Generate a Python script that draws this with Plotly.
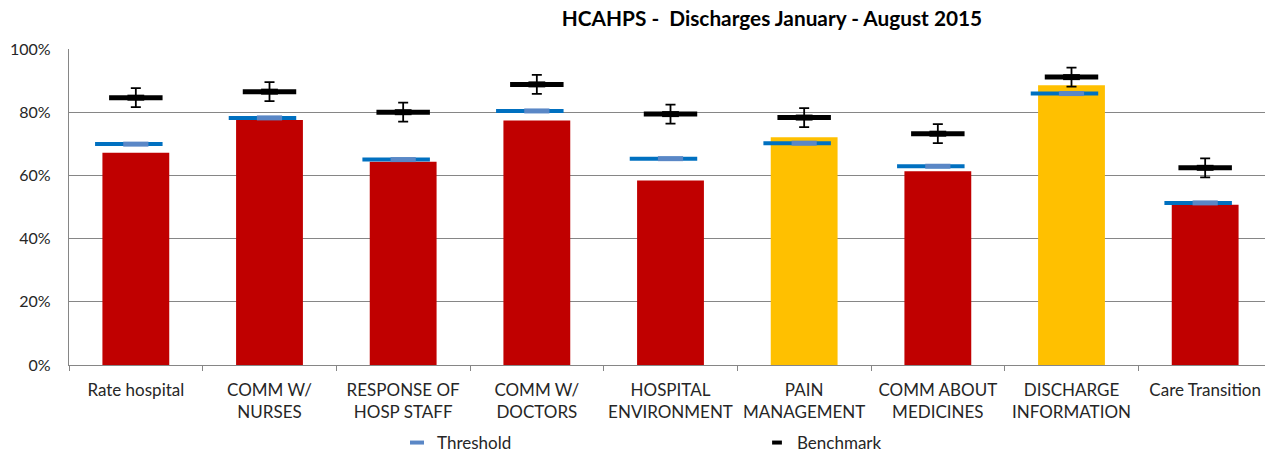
import plotly.graph_objects as go

categories = ["Rate hospital", "COMM W/<br>NURSES", "RESPONSE OF<br>HOSP STAFF", "COMM W/<br>DOCTORS",
              "HOSPITAL<br>ENVIRONMENT", "PAIN<br>MANAGEMENT", "COMM ABOUT<br>MEDICINES",
              "DISCHARGE<br>INFORMATION", "Care Transition"]
actual = [67.2, 77.5, 64.3, 77.4, 58.4, 72.1, 61.3, 88.5, 50.7]
threshold = [69.9, 78.2, 65.0, 80.4, 65.3, 70.2, 62.9, 85.9, 51.3]
benchmark = [84.6, 86.5, 80.0, 88.8, 79.4, 78.3, 73.2, 91.1, 62.4]
benchmark_err = [3.0, 3.0, 3.0, 3.0, 3.0, 3.0, 3.0, 3.0, 3.0]
y_ticks = [0, 20, 40, 60, 80, 100]
y_tick_labels = ["0%", "20%", "40%", "60%", "80%", "100%"]

RED = "#C00000"
GOLD = "#FFC000"
bar_colors = [GOLD if a >= t else RED for a, t in zip(actual, threshold)]

FONT = "Lato"
n = len(categories)
idx = list(range(n))  # category positions on the overlaid numeric axis

# page body has an 8px margin, so the figure is drawn 8px in from the window corner
W, H, OFF = 1273 - 8, 455 - 8, 8

fig = go.Figure()
fig.add_trace(go.Bar(x=categories, y=actual, marker=dict(color=bar_colors, line=dict(width=0)),
                     width=0.5, showlegend=False, hoverinfo="y"))
fig.add_trace(go.Scatter(
    x=idx, y=threshold, mode="markers", name="Threshold", xaxis="x2", showlegend=False,
    marker=dict(symbol="line-ew", size=18, color="#5A87C6", line=dict(width=5, color="#5A87C6")),
    error_x=dict(type="data", symmetric=False, array=[0.2] * n, arrayminus=[0.305] * n,
                 thickness=4, width=0, color="#0070C0"),
))
fig.add_trace(go.Scatter(
    x=idx, y=benchmark, mode="markers", name="Benchmark", xaxis="x2", showlegend=False,
    marker=dict(symbol="line-ew", size=12, color="#000000", line=dict(width=6, color="#000000")),
    error_x=dict(type="data", array=[0.2] * n, thickness=5, width=0, color="#000000"),
    error_y=dict(type="data", array=benchmark_err, thickness=1.8, width=5, color="#000000"),
))
# legend entries
fig.add_trace(go.Scatter(x=[None], y=[None], mode="markers", name="Threshold", xaxis="x2",
                         marker=dict(symbol="line-ew", size=10, color="#5A87C6",
                                     line=dict(width=4, color="#5A87C6"))))
fig.add_trace(go.Scatter(x=[None], y=[None], mode="markers", name="Benchmark", xaxis="x2",
                         marker=dict(symbol="line-ew", size=7, color="#000000",
                                     line=dict(width=4, color="#000000"))))

fig.update_layout(
    width=W, height=H,
    margin=dict(l=69 - OFF, r=1, t=49 - OFF, b=90, autoexpand=False),
    paper_bgcolor="white", plot_bgcolor="white",
    font=dict(family=FONT, size=17, color="#262626"),
    title=dict(text="<b>HCAHPS -  Discharges January - August 2015</b>", x=(772 - OFF) / W,
               xanchor="center", xref="container", y=1 - 3 / H, yref="container",
               yanchor="top", pad=dict(t=0, b=0),
               font=dict(family=FONT, size=20.8, color="#000000")),
    showlegend=True,
    legend=dict(orientation="h", x=(397 - OFF) / W, xref="container", xanchor="left",
                y=1 - (443 - OFF) / H, yref="container", yanchor="middle",
                entrywidth=315, itemwidth=30, font=dict(size=17),
                bgcolor="rgba(0,0,0,0)"),
    xaxis=dict(type="category", showline=True, linecolor="#868686", linewidth=1.3,
               ticks="outside", tickson="boundaries", ticklen=5, tickcolor="#868686",
               tickwidth=1.3, showgrid=False, ticklabelstandoff=9, tickangle=0,
               range=[-0.5, n - 0.5], automargin=False),
    xaxis2=dict(overlaying="x", range=[-0.5, n - 0.5], visible=False, fixedrange=True),
    yaxis=dict(range=[0, 100], tickvals=y_ticks, ticktext=y_tick_labels, showgrid=True,
               gridcolor="#868686", gridwidth=1.3, showline=True, linecolor="#868686",
               linewidth=1.3, zeroline=False, ticks="", ticklabelstandoff=14,
               tickfont=dict(size=16), automargin=False),
)

fig.write_html("out.html")
